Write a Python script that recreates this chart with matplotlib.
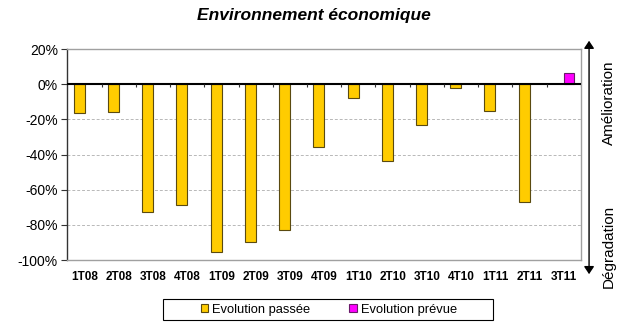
import numpy as np
from matplotlib import pyplot as plt
from matplotlib.patches import Patch, FancyArrowPatch, Rectangle

plt.rcParams['font.family'] = ['Liberation Sans', 'DejaVu Sans']

quarters = ['1T08', '2T08', '3T08', '4T08', '1T09', '2T09', '3T09', '4T09',
            '1T10', '2T10', '3T10', '4T10', '1T11', '2T11', '3T11']
passee = [-16.3, -15.7, -72.5, -68.8, -95.7, -89.6, -83.2, -36.0,
          -8.1, -43.6, -23.5, -1.9, -15.2, -66.9, np.nan]
prevue = [np.nan] * 14 + [6.6]
yticks = [20, 0, -20, -40, -60, -80, -100]

fig = plt.figure(figsize=(6.26, 3.22), dpi=100)
ax = fig.add_axes([0.1078, 0.1925, 0.820, 0.6553])

x = np.arange(len(quarters))
w = 0.32
ax.bar(x - 0.155, passee, width=w, color='#FFCC00', edgecolor='#5a4a10', linewidth=0.8, zorder=3)
ax.bar(x + 0.155, prevue, width=w, color='#FF00FF', edgecolor='#6a1a6a', linewidth=0.8, zorder=3)

ax.set_xlim(-0.5, len(quarters) - 0.5)
ax.set_ylim(-100, 20)
ax.set_yticks(yticks)
ax.set_yticklabels([f'{v}%' for v in yticks], fontsize=10)
ax.set_xticks(x)
ax.set_xticklabels(quarters, fontsize=8.5, fontweight='bold')
ax.tick_params(axis='x', length=0, pad=8)
ax.tick_params(axis='y', length=4, width=0.8, color='#333333', pad=3)

# grille pointillée
for v in [-20, -40, -60, -80]:
    ax.axhline(v, color='#b8b8b8', lw=0.7, ls=(0, (3, 2)), zorder=1)
ax.axhline(0, color='black', lw=1.5, zorder=4)
ax.vlines(np.arange(0.5, len(quarters), 1), -1.8, 0, color='#333333', lw=0.8, zorder=4)

for s in ['top', 'right', 'bottom']:
    ax.spines[s].set_color('#a0a0a0')
    ax.spines[s].set_linewidth(1.0)
ax.spines['left'].set_color('#333333')
ax.spines['left'].set_linewidth(1.0)

fig.text(0.502, 0.953, 'Environnement économique', ha='center', va='center',
         fontsize=12.5, fontweight='bold', fontstyle='italic')

# flèche double à droite
arrow = FancyArrowPatch((0.941, 0.140), (0.941, 0.882), transform=fig.transFigure,
                        arrowstyle='<|-|>,head_length=4.5,head_width=3', color='black', lw=1.0,
                        mutation_scale=1)
fig.add_artist(arrow)
fig.text(0.972, 0.680, 'Amélioration', rotation=90, ha='center', va='center', fontsize=11)
fig.text(0.972, 0.236, 'Dégradation', rotation=90, ha='center', va='center', fontsize=11)

handles = [Patch(facecolor='#FFCC00', edgecolor='#5a4a10', lw=0.8),
           Patch(facecolor='#FF00FF', edgecolor='#6a1a6a', lw=0.8)]
leg = fig.legend(handles, ['Evolution passée', 'Evolution prévue'], ncol=2,
                 loc='center', bbox_to_anchor=(0.525, 0.038), fontsize=9.3,
                 frameon=False, handlelength=0.6, handleheight=0.6,
                 handletextpad=0.3, columnspacing=3.0, borderpad=0.3)
# cadre de la légende
fig.add_artist(Rectangle((163 / 626, 2 / 322), 330 / 626, 21 / 322,
                         transform=fig.transFigure, fill=False,
                         edgecolor='black', lw=0.8))

fig.savefig('out.png', dpi=100)
